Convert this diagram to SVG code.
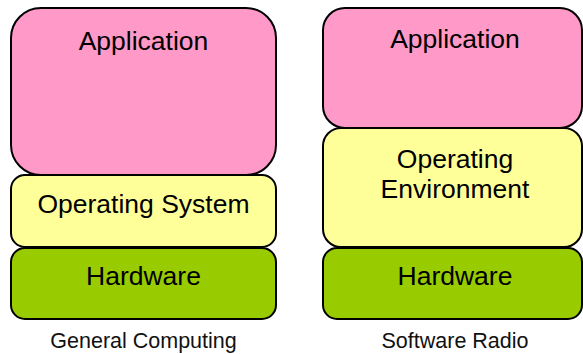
<svg xmlns="http://www.w3.org/2000/svg" width="583" height="354" viewBox="0 0 583 354">
<style>
.b{stroke:#000;stroke-width:2}
.app{fill:#FF99C8}
.os{fill:#FFFF99}
.hw{fill:#99CC00}
.t{font-family:"Liberation Sans",Arial,sans-serif;font-size:26.5px;fill:#000;text-anchor:middle}
.c{font-family:"Liberation Sans",Arial,sans-serif;font-size:21.5px;fill:#111;text-anchor:middle}
</style>
<rect width="583" height="354" fill="#fff"/>
<g id="left-application"><rect class="b app" x="11" y="8" width="265" height="167" rx="30"/><text class="t" x="143.5" y="50">Application</text></g>
<g id="left-os"><rect class="b os" x="11" y="175" width="265" height="72" rx="14"/><text class="t" x="143.5" y="213">Operating System</text></g>
<g id="left-hardware"><rect class="b hw" x="11" y="248" width="265" height="71" rx="14"/><text class="t" x="143.5" y="285">Hardware</text></g>
<g id="left-caption"><text class="c" x="143.5" y="348">General Computing</text></g>
<g id="right-application"><rect class="b app" x="323" y="8" width="259" height="120" rx="22"/><text class="t" x="455" y="48">Application</text></g>
<g id="right-oe"><rect class="b os" x="323" y="128" width="259" height="119" rx="18"/><text class="t" x="455" y="168">Operating</text><text class="t" x="455" y="198">Environment</text></g>
<g id="right-hardware"><rect class="b hw" x="323" y="248" width="259" height="71" rx="14"/><text class="t" x="455" y="285">Hardware</text></g>
<g id="right-caption"><text class="c" x="455" y="348">Software Radio</text></g>
<g id="connectors"></g>
</svg>
